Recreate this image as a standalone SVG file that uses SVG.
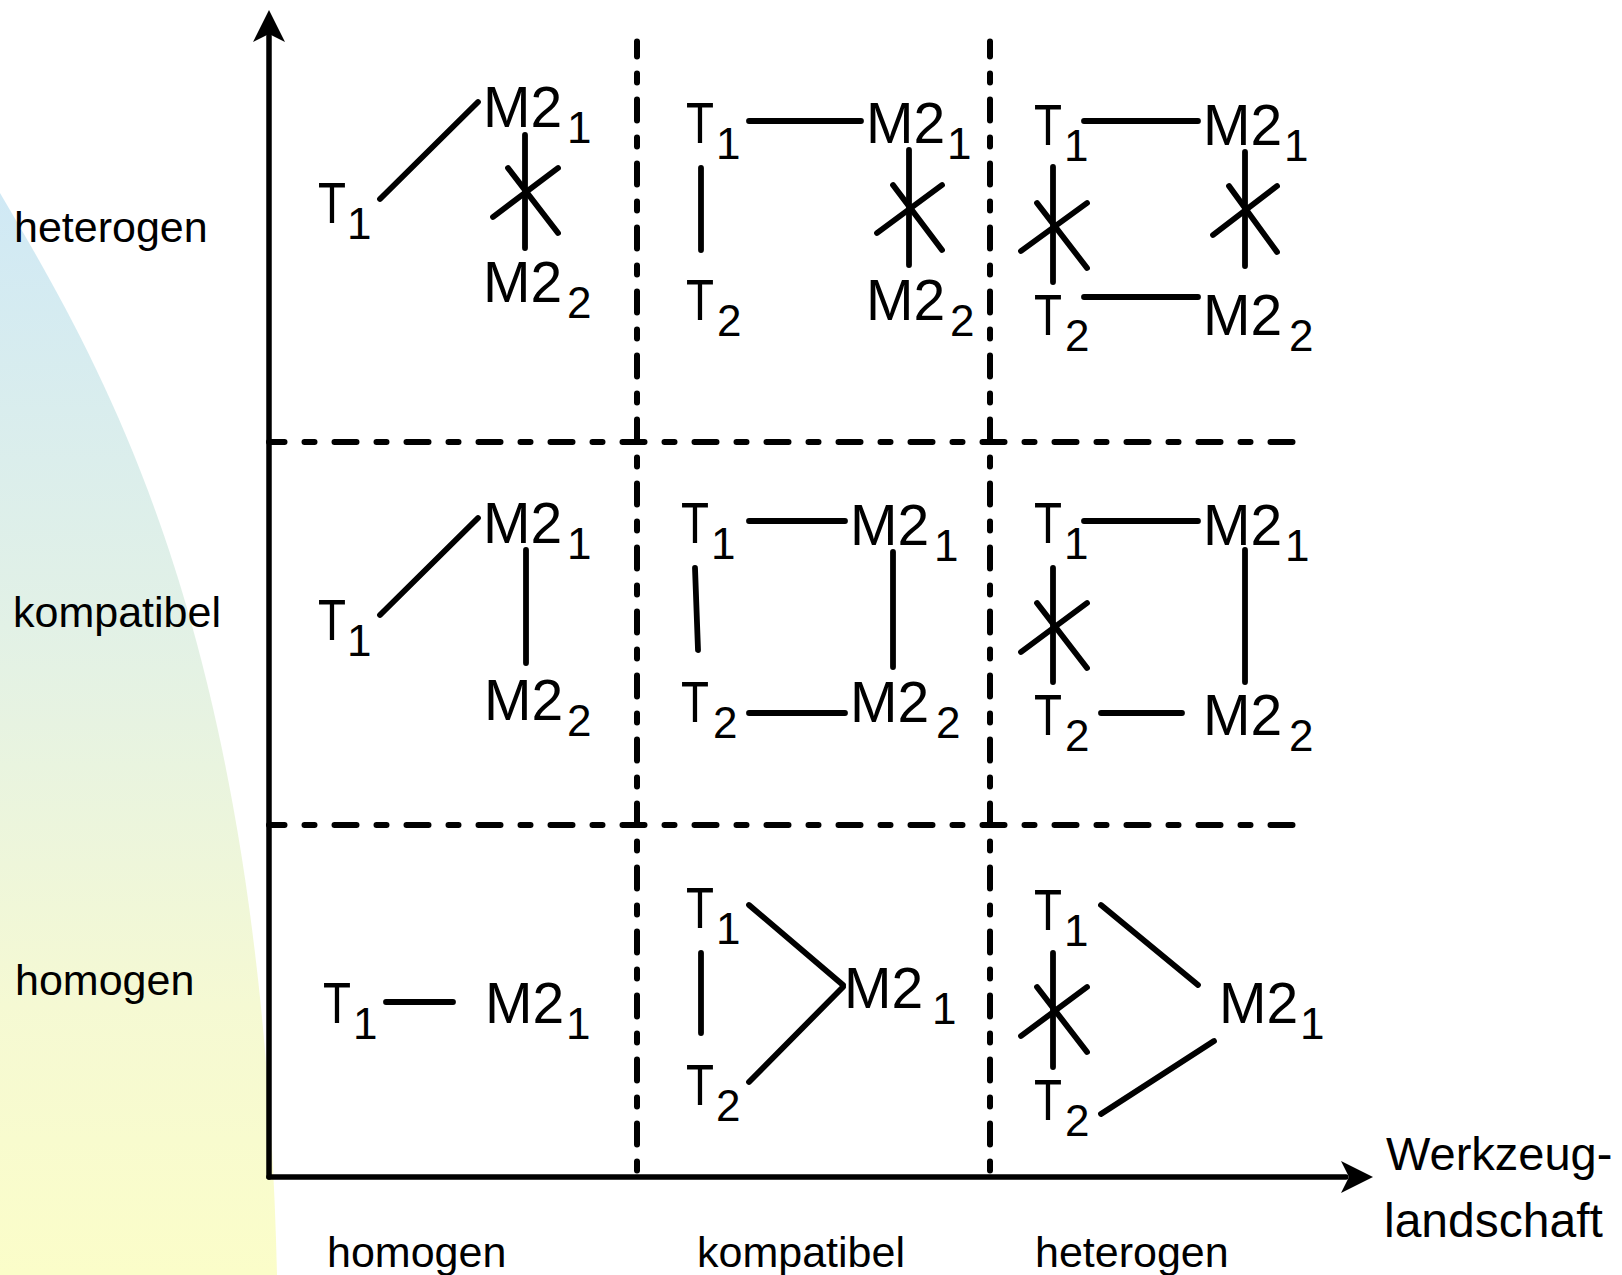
<svg xmlns="http://www.w3.org/2000/svg" width="1622" height="1275" viewBox="0 0 1622 1275">
<defs>
<linearGradient id="bg" gradientUnits="userSpaceOnUse" x1="0" y1="193" x2="0" y2="1275">
<stop offset="0" stop-color="#d0e9f5"/>
<stop offset="0.4" stop-color="#e2f1e6"/>
<stop offset="0.75" stop-color="#f5f9d3"/>
<stop offset="1" stop-color="#fbfdc9"/>
</linearGradient>
<style>
.lbl{font-family:"Liberation Sans",Arial,sans-serif;font-size:43px;fill:#000}
.ax{font-family:"Liberation Sans",Arial,sans-serif;font-size:47px;fill:#000}
.t{font-family:"Liberation Sans",Arial,sans-serif;font-size:57px;fill:#000}
.s{font-size:44px}
.axis{stroke:#000;stroke-width:5.5;fill:none;stroke-linecap:round}
.vd{stroke:#000;stroke-width:6;fill:none;stroke-linecap:round;stroke-dasharray:21 17 9 17;stroke-dashoffset:6}
.hd{stroke:#000;stroke-width:6;fill:none;stroke-linecap:round;stroke-dasharray:22 20 10 20;stroke-dashoffset:6.5}
.c line{stroke:#000;stroke-width:5.8;stroke-linecap:round}
</style>
</defs>
<path d="M0,193 C110,380 262,640 277,1275 L0,1275 Z" fill="url(#bg)"/>

<g id="grid">
<line class="vd" x1="637" y1="41.5" x2="637" y2="1177"/>
<line class="vd" x1="990" y1="41.5" x2="990" y2="1177"/>
<line class="hd" x1="269" y1="442" x2="1296" y2="442"/>
<line class="hd" x1="269" y1="825" x2="1296" y2="825"/>
</g>

<g id="axes">
<line class="axis" x1="269" y1="1177" x2="269" y2="36"/>
<polygon points="269,10 253,42 269,34 285,42" fill="#000"/>
<line class="axis" x1="269" y1="1177" x2="1346" y2="1177"/>
<polygon points="1373,1177 1341,1161 1349,1177 1341,1193" fill="#000"/>
</g>

<g id="axis-labels">
<text class="lbl" x="14" y="242">heterogen</text>
<text class="lbl" x="13" y="627">kompatibel</text>
<text class="lbl" x="15" y="995">homogen</text>
<text class="lbl" x="327" y="1267">homogen</text>
<text class="lbl" x="697" y="1267">kompatibel</text>
<text class="lbl" x="1035" y="1267">heterogen</text>
<text class="ax" x="1386" y="1170">Werkzeug-</text>
<text class="ax" x="1384" y="1237" style="font-size:48px">landschaft</text>
</g>

<g id="cell-het-hom">
<text class="t" x="318" y="223"><tspan textLength="28" lengthAdjust="spacingAndGlyphs">T</tspan><tspan class="s" x="347" y="239">1</tspan></text>
<text class="t" x="483" y="127">M2<tspan class="s" x="567" y="143">1</tspan></text>
<text class="t" x="483" y="302">M2<tspan class="s" x="567" y="318">2</tspan></text>
</g>
<g id="cell-het-kom">
<text class="t" x="686" y="143"><tspan textLength="28" lengthAdjust="spacingAndGlyphs">T</tspan><tspan class="s" x="716" y="159">1</tspan></text>
<text class="t" x="866" y="143">M2<tspan class="s" x="947" y="159">1</tspan></text>
<text class="t" x="686" y="320"><tspan textLength="28" lengthAdjust="spacingAndGlyphs">T</tspan><tspan class="s" x="717" y="336">2</tspan></text>
<text class="t" x="866" y="320">M2<tspan class="s" x="950" y="336">2</tspan></text>
</g>
<g id="cell-het-het">
<text class="t" x="1034" y="145"><tspan textLength="28" lengthAdjust="spacingAndGlyphs">T</tspan><tspan class="s" x="1064" y="161">1</tspan></text>
<text class="t" x="1203" y="145">M2<tspan class="s" x="1284" y="161">1</tspan></text>
<text class="t" x="1034" y="335"><tspan textLength="28" lengthAdjust="spacingAndGlyphs">T</tspan><tspan class="s" x="1065" y="351">2</tspan></text>
<text class="t" x="1203" y="335">M2<tspan class="s" x="1289" y="351">2</tspan></text>
</g>
<g id="cell-kom-hom">
<text class="t" x="318" y="640"><tspan textLength="28" lengthAdjust="spacingAndGlyphs">T</tspan><tspan class="s" x="347" y="656">1</tspan></text>
<text class="t" x="483" y="543">M2<tspan class="s" x="567" y="559">1</tspan></text>
<text class="t" x="484" y="720">M2<tspan class="s" x="567" y="736">2</tspan></text>
</g>
<g id="cell-kom-kom">
<text class="t" x="681" y="543"><tspan textLength="28" lengthAdjust="spacingAndGlyphs">T</tspan><tspan class="s" x="711" y="559">1</tspan></text>
<text class="t" x="850" y="545">M2<tspan class="s" x="934" y="561">1</tspan></text>
<text class="t" x="681" y="722"><tspan textLength="28" lengthAdjust="spacingAndGlyphs">T</tspan><tspan class="s" x="713" y="738">2</tspan></text>
<text class="t" x="850" y="722">M2<tspan class="s" x="936" y="738">2</tspan></text>
</g>
<g id="cell-kom-het">
<text class="t" x="1034" y="543"><tspan textLength="28" lengthAdjust="spacingAndGlyphs">T</tspan><tspan class="s" x="1064" y="559">1</tspan></text>
<text class="t" x="1203" y="545">M2<tspan class="s" x="1285" y="561">1</tspan></text>
<text class="t" x="1034" y="735"><tspan textLength="28" lengthAdjust="spacingAndGlyphs">T</tspan><tspan class="s" x="1065" y="751">2</tspan></text>
<text class="t" x="1203" y="735">M2<tspan class="s" x="1289" y="751">2</tspan></text>
</g>
<g id="cell-hom-hom">
<text class="t" x="323" y="1023"><tspan textLength="28" lengthAdjust="spacingAndGlyphs">T</tspan><tspan class="s" x="353" y="1039">1</tspan></text>
<text class="t" x="485" y="1023">M2<tspan class="s" x="566" y="1039">1</tspan></text>
</g>
<g id="cell-hom-kom">
<text class="t" x="686" y="928"><tspan textLength="28" lengthAdjust="spacingAndGlyphs">T</tspan><tspan class="s" x="716" y="944">1</tspan></text>
<text class="t" x="686" y="1105"><tspan textLength="28" lengthAdjust="spacingAndGlyphs">T</tspan><tspan class="s" x="716" y="1121">2</tspan></text>
<text class="t" x="844" y="1008">M2<tspan class="s" x="932" y="1024">1</tspan></text>
</g>
<g id="cell-hom-het">
<text class="t" x="1034" y="930"><tspan textLength="28" lengthAdjust="spacingAndGlyphs">T</tspan><tspan class="s" x="1064" y="946">1</tspan></text>
<text class="t" x="1034" y="1120"><tspan textLength="28" lengthAdjust="spacingAndGlyphs">T</tspan><tspan class="s" x="1065" y="1136">2</tspan></text>
<text class="t" x="1219" y="1023">M2<tspan class="s" x="1300" y="1039">1</tspan></text>
</g>

<g id="connectors" class="c">
<line x1="380" y1="199" x2="478" y2="102"/>
<line x1="525" y1="135" x2="525" y2="248"/>
<line x1="493" y1="217" x2="558" y2="168"/>
<line x1="508" y1="168" x2="558" y2="233"/>
<line x1="749" y1="121" x2="861" y2="121"/>
<line x1="701" y1="168" x2="701" y2="250"/>
<line x1="909" y1="150" x2="909" y2="265"/>
<line x1="877" y1="233" x2="942" y2="185"/>
<line x1="893" y1="185" x2="942" y2="250"/>
<line x1="1084" y1="121" x2="1198" y2="121"/>
<line x1="1084" y1="297" x2="1198" y2="297"/>
<line x1="1053" y1="167" x2="1053" y2="282"/>
<line x1="1021" y1="251" x2="1087" y2="203"/>
<line x1="1037" y1="203" x2="1087" y2="268"/>
<line x1="1245" y1="152" x2="1245" y2="266"/>
<line x1="1213" y1="235" x2="1277" y2="186"/>
<line x1="1229" y1="186" x2="1277" y2="252"/>
<line x1="380" y1="615" x2="478" y2="518"/>
<line x1="526" y1="550" x2="526" y2="663"/>
<line x1="749" y1="521" x2="845" y2="521"/>
<line x1="749" y1="713" x2="845" y2="713"/>
<line x1="695" y1="568" x2="698" y2="650"/>
<line x1="893" y1="552" x2="893" y2="667"/>
<line x1="1084" y1="521" x2="1198" y2="521"/>
<line x1="1101" y1="713" x2="1182" y2="713"/>
<line x1="1053" y1="568" x2="1053" y2="682"/>
<line x1="1021" y1="652" x2="1087" y2="603"/>
<line x1="1037" y1="603" x2="1087" y2="668"/>
<line x1="1245" y1="550" x2="1245" y2="682"/>
<line x1="386" y1="1002" x2="453" y2="1002"/>
<line x1="701" y1="953" x2="701" y2="1033"/>
<line x1="749" y1="905" x2="843" y2="985"/>
<line x1="749" y1="1082" x2="843" y2="987"/>
<line x1="1053" y1="953" x2="1053" y2="1067"/>
<line x1="1021" y1="1036" x2="1087" y2="987"/>
<line x1="1037" y1="987" x2="1087" y2="1052"/>
<line x1="1101" y1="905" x2="1198" y2="985"/>
<line x1="1101" y1="1114" x2="1214" y2="1041"/>
</g>
</svg>
